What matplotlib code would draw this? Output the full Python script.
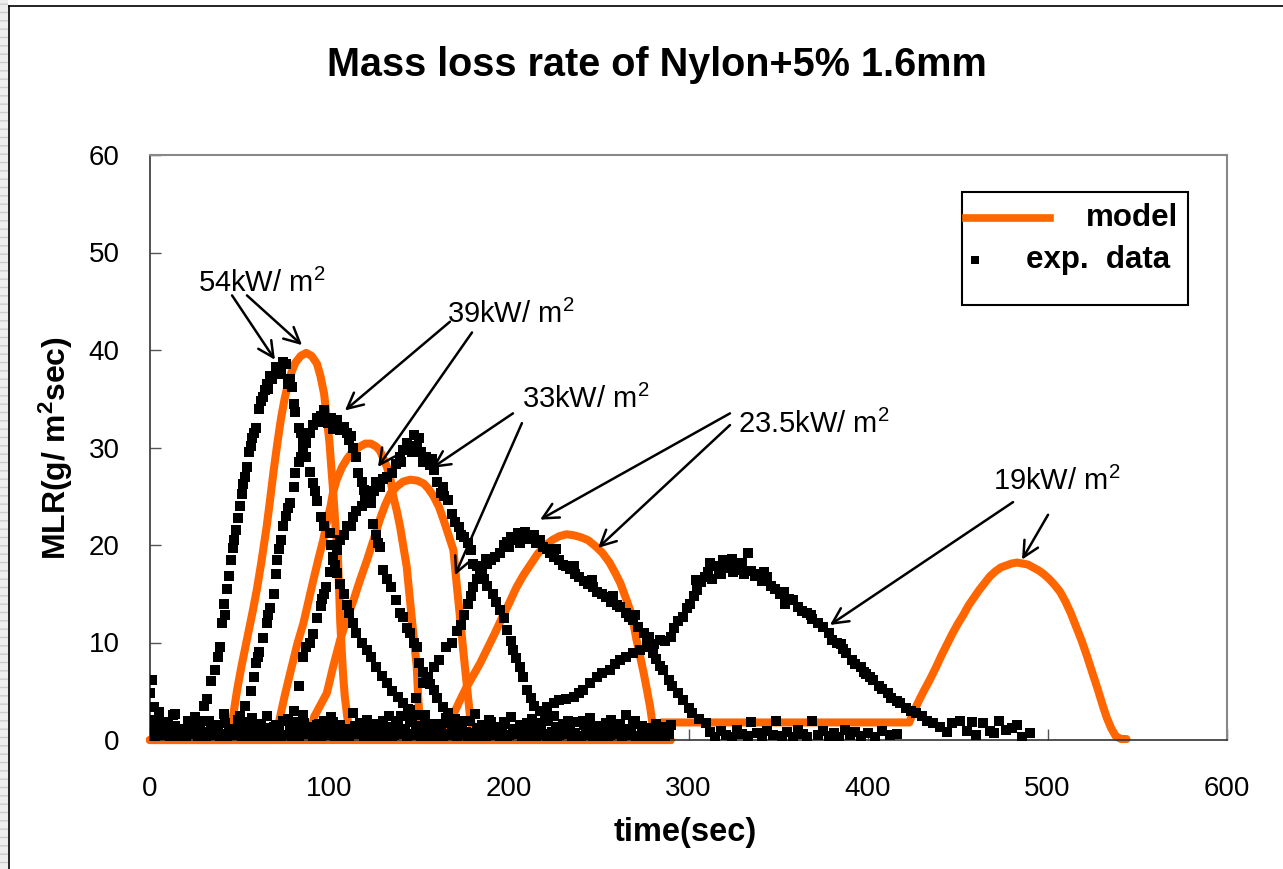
import numpy as np
import matplotlib
matplotlib.use("Agg")
import matplotlib.pyplot as plt
from matplotlib.patches import Rectangle
from matplotlib.lines import Line2D

plt.rcParams['font.family'] = ['Liberation Sans', 'DejaVu Sans']
plt.rcParams['mathtext.fontset'] = 'custom'
plt.rcParams['mathtext.rm'] = 'Liberation Sans'
plt.rcParams['mathtext.it'] = 'Liberation Sans'
plt.rcParams['mathtext.bf'] = 'Liberation Sans:bold'

exp54 = [[30,3.5],[32,4.2],[34,6.1],[36,7.2],[38,8.5],[39,9.5],[40,12.0],[41,14.0],[43,15.5],[44,16.8],
         [45,18.5],[46,19.7],[48,21.5],[49,22.8],[50,24.0],[51,25.2],[52,26.3],[54,28.0],[55,29.5],[56,30.2],
         [58,31.5],[59,32.0],[61,34.0],[62,34.8],[64,35.9],[65,36.5],[67,37.3],[68,37.0],[70,38.3],[72,38.0],
         [74,38.8],[76,38.6],[77,36.5],[78,37.0],[79,36.2],[80,34.5],[81,33.6],[83,32.0],[85,30.5],[87,29.0],
         [89,27.5],[91,26.4],[93,24.5],[95,22.9],[97,22.0],[100,21.2],[102,18.5],[104,17.1],[106,16.0],[108,15.0],
         [110,13.8],[111,13.0],[113,12.0],[115,11.0],[118,10.0],[121,9.2],[123,8.5],[126,7.5],[129,6.6],[132,5.8],
         [135,5.0],[138,4.4],[141,3.8],[145,3.1],[149,2.6],[153,2.2],
         [42,12.8],[47,20.5],[53,27.0],[57,31.0],[63,35.2],[66,36.0],[73,37.5],[84,31.5],[92,25.5],[101,20.0]]

exp39 = [[50,2.5],[53,3.5],[56,5.0],[58,6.5],[59,7.9],[61,9.0],[63,10.5],[65,12.0],[67,13.5],[69,15.0],
         [70,17.0],[71,18.5],[73,20.5],[74,21.9],[76,23.0],[78,24.3],[80,26.0],[81,27.4],[83,28.5],[85,29.7],
         [87,30.5],[89,31.5],[91,32.3],[93,33.0],[95,33.2],[97,33.8],[99,32.5],[101,33.0],[103,32.2],[104,32.8],
         [106,31.8],[108,32.1],[110,31.5],[111,30.8],[113,30.0],[115,29.0],[116,27.4],[118,26.5],[119,25.6],[121,24.8],
         [123,24.3],[124,22.2],[126,21.0],[128,19.8],[130,17.4],[132,16.5],[134,15.7],[137,14.4],[139,13.0],[141,12.6],
         [143,11.5],[145,11.0],[147,10.0],[149,9.5],[150,7.9],[152,7.0],[154,6.5],[156,5.7],[158,5.1],[160,4.3],
         [163,3.4],[166,2.8],[170,2.2],
         [60,8.5],[66,12.8],[72,19.6],[77,23.8],[84,29.0],[96,32.6],[102,31.9],[112,31.2],[120,25.0],[127,20.2]]

exp33 = [[80,3.0],[83,5.5],[85,8.5],[87,9.5],[89,10.0],[91,10.9],[93,12.5],[95,13.7],[97,15.0],[98,15.7],
         [100,17.2],[102,18.8],[104,19.5],[106,20.5],[108,21.0],[110,22.0],[113,22.9],[115,23.5],[118,24.0],[121,24.6],
         [123,25.3],[125,25.5],[128,26.0],[130,26.8],[132,27.0],[135,27.4],[137,28.3],[139,29.0],[141,29.7],[143,30.5],
         [145,30.2],[147,31.3],[149,30.0],[151,29.5],[152,28.5],[154,29.0],[156,28.2],[158,27.7],[160,26.5],[162,25.3],
         [164,25.0],[166,24.6],[168,23.2],[170,22.4],[172,21.8],[175,20.8],[177,20.2],[179,19.5],[180,18.1],[182,17.8],
         [184,17.0],[186,16.5],[188,15.8],[191,15.0],[193,14.2],[195,13.3],[197,12.5],[199,11.3],[201,10.2],[202,9.2],
         [204,8.4],[206,7.5],[208,6.5],[210,5.1],[212,4.3],[214,3.5],[217,3.0],[220,2.5],
         [96,14.5],[103,18.0],[112,22.0],[126,26.5],[140,28.5],[146,29.5],[150,31.0],[157,28.8],[163,26.0],[173,21.0]]

exp23 = [[140,2.5],[144,3.2],[148,4.3],[152,5.8],[155,6.5],[158,7.5],[161,8.2],[165,9.5],[168,10.0],[171,11.2],
         [173,11.8],[175,12.8],[177,14.0],[179,14.8],[180,15.7],[182,16.5],[185,17.5],[188,18.1],[190,18.5],[192,18.8],
         [195,19.2],[197,20.0],[199,20.3],[201,20.8],[203,20.5],[205,21.2],[207,20.8],[209,21.3],[211,20.6],[213,20.9],
         [215,20.2],[217,20.5],[219,19.8],[221,19.6],[223,19.2],[225,18.8],[228,18.5],[230,18.0],[232,17.8],[234,17.5],
         [237,17.0],[239,16.7],[242,16.3],[244,16.0],[247,15.7],[249,15.2],[252,15.0],[254,14.7],[257,14.2],[260,13.8],
         [262,13.6],[265,13.0],[267,12.6],[269,12.3],[272,11.6],[275,11.0],[277,10.0],[280,8.9],[282,8.3],[284,7.6],
         [286,7.2],[289,6.2],[291,5.5],[294,4.8],[297,4.1],[300,3.3],[302,2.8],[306,2.2],[310,1.7],
         [187,18.6],[200,19.8],[206,20.2],[214,21.0],[226,19.6],[236,17.8],[246,16.4],[258,14.8],[270,12.8],[278,10.6]]

exp19 = [[218,3.0],[221,3.4],[225,3.8],[228,4.1],[232,4.2],[236,4.4],[239,4.8],[241,5.1],[245,5.8],[249,6.5],
         [252,6.9],[256,7.2],[259,7.8],[262,8.2],[265,8.5],[269,8.9],[273,9.2],[277,9.5],[281,9.8],[284,10.3],
         [287,10.2],[290,10.6],[292,11.5],[294,12.2],[297,12.6],[299,13.5],[301,14.0],[303,14.8],[305,15.4],[307,16.2],
         [309,16.7],[311,17.2],[313,16.5],[315,17.8],[317,17.5],[319,18.5],[321,17.6],[323,17.9],[325,17.2],[327,18.0],
         [329,17.4],[331,17.0],[333,19.2],[335,17.3],[337,16.8],[339,17.0],[341,16.3],[344,16.7],[346,15.8],[348,15.5],
         [351,15.0],[353,15.2],[356,14.5],[358,14.4],[361,13.6],[363,13.2],[366,13.0],[369,12.4],[372,12.0],[375,11.6],
         [378,11.0],[380,10.3],[383,10.0],[386,9.3],[388,8.9],[391,8.2],[393,7.8],[396,7.5],[399,6.8],[401,6.5],
         [403,6.2],[406,5.5],[408,5.2],[411,4.8],[413,4.3],[416,4.0],[418,3.8],[421,3.3],[424,3.0],[427,2.8],
         [430,2.5],[433,2.0],[436,1.7],[440,1.3],[444,0.8],[447,1.7],[451,1.9],[455,0.9],[458,1.8],[460,0.5],
         [464,1.7],[468,0.9],[470,0.7],[473,1.9],[477,1.0],[480,1.2],[483,1.5],[486,0.3],[490,0.7],
         [304,16.4],[312,18.2],[318,17.0],[324,18.6],[330,18.2],[342,17.2],[354,14.0],[368,12.8],[385,9.8],[398,7.0]]

# baseline readings (before ignition / after burnout)
base_a = [0.6,0.9,0.5,0.8,1.0,0.4,0.7,0.9,0.5,0.8,
          0.6,1.0,0.5,0.7,0.9,0.4,0.8,0.6,1.0,0.5,
          0.7,0.9,0.6,0.4,0.8,1.0,0.5,0.7,0.9,0.6,
          0.8,0.4,0.7,1.0,0.5,0.9,0.6,0.8,0.4,0.7,
          1.0,0.6,0.9,0.5,0.8,0.7,0.4,0.9,0.6,1.0,
          0.5,0.8,0.7,0.4,0.9,0.6,0.8,0.5,1.0,0.7,
          0.4,0.9,0.6,0.8,0.5,0.7,1.0,0.6,0.4,0.8,
          0.9,0.5,0.7]
base_b = [1.5,1.2,1.8,1.4,1.1,1.6,1.3,1.9,1.2,1.5,
          1.7,1.1,1.4,1.8,1.3,1.6,1.2,1.5,1.9,1.1,
          1.4,1.7,1.3,1.6,1.2,1.8,1.5,1.1,1.4,1.7,
          1.2,1.6,1.9,1.3,1.5,1.1,1.8,1.4,1.2,1.6,
          1.3,1.7,1.1,1.5,1.9,1.2,1.4,1.8,1.3,1.6,
          1.1,1.5,1.7,1.2,1.4,1.9,1.3,1.6,1.1,1.8,
          1.5,1.2,1.4,1.7,1.3,1.6,1.1,1.9,1.4,1.2,
          1.6,1.3,1.5]
base_c = [3.4,2.2,1.0,2.6,0.3,1.9,2.4,0.8,2.0,1.2,
          2.7,0.5,2.1,1.6,2.3,0.9,2.5,1.3,0.4,2.2,
          1.8,2.6,0.7,1.5,2.0,2.4,1.1,0.3,2.8,1.7,
          2.1,0.6,1.4,2.5,1.9,0.8,2.2,1.2,2.6,0.5,
          1.6,2.3,1.0,2.0,0.4,2.7,1.5,2.1,0.9,1.8,
          2.4,0.6,1.3,2.2,1.7,0.3,2.5,1.1,2.0,0.7,
          1.9,2.3,0.5,1.4,2.1,0.8,2.6,1.6,0.4,1.2,
          0.9,0.3,0.6]
base_d = [0.3,0.5,0.2,0.4,0.3,0.6,0.2,0.4,0.5,0.3,
          0.2,0.5,0.4,0.3,0.6,0.2,0.4,0.3,0.5,0.2,
          0.4,0.6,0.3,0.2,0.5,0.3,0.4,0.2,0.6,0.3,
          0.5,0.2,0.4,0.3,0.6,0.2,0.5,0.3,0.4,0.2,
          0.3,0.5,0.2,0.6,0.4,0.3,0.2,0.5,0.4,0.3,
          0.6,0.2,0.4,0.3,0.5,0.2,0.4,0.6,0.3,0.2,
          0.5,0.3,0.4,0.2,0.6,0.3,0.5,0.2,0.4,0.3,
          0.2,0.4]
base_start = [[0,4.8],[1,6.2],[0,2.1],[2,3.4],[0,1.2],[5,2.9],[14,2.7]]
base_tail = [[312,0.8],[315,0.3],[318,0.9],[321,0.5],[324,0.3],[327,1.0],[330,0.6],[333,0.4],[335,1.8],[338,0.7],
             [341,0.3],[344,0.9],[347,0.5],[349,2.0],[352,0.4],[355,0.8],[358,0.3],[361,1.0],[364,0.6],[366,0.3],
             [369,2.0],[372,0.5],[375,0.9],[378,0.4],[381,0.7],[384,0.3],[387,1.0],[390,0.5],[393,0.8],[396,0.4],
             [400,0.7],[404,0.3],[408,0.9],[412,0.5],[416,0.6]]

# model curves
model54 = [[0,0],[43,0],[45,1.2],[46.5,2.7],[48.5,5.1],[51,7.6],[54,10.3],[57,13.0],[59.5,15.4],[62,18.2],
           [65,21.9],[67,24.8],[69,27.8],[71,30.5],[73,33.0],[75,35.0],[77,36.6],[79,37.8],[81,38.7],[84,39.4],
           [87,39.7],[90,39.4],[93,38.6],[95,37.3],[97,35.5],[98.5,33.0],[100,30.5],[101,28.0],[102,25.6],[103.5,21.5],
           [104.7,18.8],[106,12.0],[107.5,6.9],[108.5,4.5],[109.5,3.0],[110.5,1.5],[111.5,0.3],[113,0],[290,0]]
model39 = [[0,0],[69,0],[71,1.0],[72.5,2.4],[75,4.5],[78,6.8],[82,9.8],[85.5,12.0],[88,14.0],[91,16.4],
           [94,18.7],[96.5,20.5],[98.5,22.3],[100.5,23.9],[102,25.4],[104,26.7],[107,28.0],[110,28.9],[113,29.6],[117,30.1],
           [120,30.4],[123,30.4],[126,30.1],[128,29.7],[130,28.9],[132,28.0],[134,26.7],[135.5,25.0],[137.5,23.5],[139.3,21.9],
           [141,20.0],[143,17.8],[144.8,14.4],[146.7,10.9],[148.6,7.5],[149.5,4.1],[150.4,1.7],[151.5,0.3],[153,0],[290,0]]
model33 = [[0,0],[88,0],[90,1.2],[91.5,2.4],[95,3.6],[98.5,4.8],[102,7.5],[106,10.3],[110,12.6],[113.5,14.4],
           [117,16.4],[121,18.5],[125,20.8],[128,22.6],[131,24.1],[134,25.3],[137.5,26.0],[141,26.5],[145,26.7],[149,26.6],
           [152.5,26.3],[155,25.8],[158,25.0],[161,23.9],[163.5,22.6],[166,21.2],[169,19.5],[170.8,16.1],[172.7,12.6],[174.5,9.2],
           [176.4,5.8],[178.3,2.4],[180,1.0],[181.5,0.2],[183,0],[290,0]]
model23 = [[0,0],[163,0],[165,0.8],[168,2.2],[172,3.8],[176,5.3],[180,6.6],[184,7.9],[188,9.4],[192,10.9],
           [196,12.5],[200,14.0],[204,15.6],[208,16.9],[212,18.0],[216,19.1],[220,19.9],[224,20.5],[228,20.9],[232,21.1],
           [236,21.0],[240,20.8],[244,20.5],[248,19.9],[252,19.2],[256,18.2],[259,17.2],[262,16.1],[265,14.6],[267.5,13.3],
           [269.5,11.8],[271,10.3],[273,8.6],[275,6.9],[277,5.0],[278.6,3.4],[280,1.6],[281.5,0.5],[283,0.1],[290,0]]
model19 = [[285,1.8],[423,1.8],[425,2.7],[428,3.9],[431,5.0],[434.5,6.2],[438,7.5],[441,8.7],[444,9.8],[447,10.9],
           [450,11.9],[453,12.8],[456,13.8],[459,14.6],[462,15.4],[465,16.1],[468,16.8],[471,17.3],[474,17.7],[477,17.9],
           [480,18.1],[483,18.2],[486,18.1],[489,18.0],[492,17.7],[495,17.4],[498,17.0],[501,16.5],[504,15.9],[507,15.2],
           [510,14.2],[513,13.0],[516,11.6],[519,10.2],[522,8.6],[525,6.9],[528,5.2],[531,3.4],[533,2.3],[535.5,1.2],
           [538,0.4],[541,0.1],[544,0.1]]

# labels: text, text position (left, baseline), arrow tails and heads
labels = ["54kW/ m$^2$", "39kW/ m$^2$", "33kW/ m$^2$", "23.5kW/ m$^2$", "19kW/ m$^2$"]
label_pos = [(26.7, 45.9), (165.5, 42.8), (207.2, 34.1), (327.6, 31.5), (469.6, 25.6)]
arrows = [[(45.7, 45.6), (69.6, 39.0)], [(54.0, 45.6), (84.7, 40.5)],
          [(167.1, 42.9), (108.6, 33.8)], [(179.4, 41.8), (127.0, 28.0)],
          [(202.2, 33.5), (157.1, 27.9)], [(207.2, 32.5), (169.9, 16.9)],
          [(323.1, 33.5), (217.3, 22.6)], [(323.1, 32.3), (249.6, 19.7)],
          [(480.8, 24.4), (378.8, 11.8)], [(500.3, 23.1), (485.8, 18.5)]]

orange = '#FF6600'

fig = plt.figure(figsize=(12.83, 8.69), dpi=100)
ax = fig.add_axes([150/1283, 1-740/869, 1077/1283, 585/869])

for m in [model54, model39, model33, model23, model19]:
    a = np.array(m)
    ax.plot(a[:, 0], a[:, 1], color=orange, lw=5.8, solid_capstyle='round',
            solid_joinstyle='round', clip_on=False, zorder=2)

ms = 6.6
ta = np.arange(0, 292, 4)
tb = np.arange(2, 292, 4)
tc = np.arange(1, 292, 4)
td = np.arange(3, 292, 4)
for t, y in [(ta, base_a), (tb, base_b), (tc, base_c), (td, base_d)]:
    n = min(len(t), len(y))
    ax.plot(t[:n], y[:n], 's', color='black', ms=ms, mew=0, zorder=3)
for s in [base_start, base_tail, exp54, exp39, exp33, exp23, exp19]:
    a = np.array(s)
    ax.plot(a[:, 0], a[:, 1], 's', color='black', ms=ms, mew=0, zorder=3)

# annotations
for txt, p in zip(labels, label_pos):
    ax.text(p[0], p[1], txt, fontsize=21, ha='left', va='baseline', zorder=5)
for tail, head in arrows:
    ax.annotate('', xy=head, xytext=tail,
                arrowprops=dict(arrowstyle='->', color='black', lw=1.8,
                                mutation_scale=28, shrinkA=0, shrinkB=0), zorder=5)

ax.set_xlim(0, 600)
ax.set_ylim(0, 60)
ax.set_xticks([0, 100, 200, 300, 400, 500, 600])
ax.set_yticks([0, 10, 20, 30, 40, 50, 60])
ax.tick_params(direction='in', length=8, width=1, color='#555555', labelsize=20)
ax.tick_params(axis='x', pad=26)
ax.tick_params(axis='y', pad=22)
for side in ['left', 'bottom']:
    ax.spines[side].set_color('#333333')
    ax.spines[side].set_linewidth(1.2)
for side in ['top', 'right']:
    ax.spines[side].set_color('#888888')
    ax.spines[side].set_linewidth(1.5)

# legend drawn by hand (labels right aligned)
ax.add_patch(Rectangle((0.754, 0.7436), 0.2098, 0.1932, transform=ax.transAxes,
                       facecolor='white', edgecolor='black', lw=1.5, zorder=6))
ax.plot([0.7577, 0.8357], [0.8923, 0.8923], transform=ax.transAxes, color=orange, lw=5.5, zorder=7)
ax.plot([0.766], [0.8205], 's', transform=ax.transAxes, color='black', ms=5.5, mew=0, zorder=7)
ax.text(0.9545, 0.8923, 'model', transform=ax.transAxes, fontsize=22.5, fontweight='bold',
        ha='right', va='center', zorder=7)
ax.text(0.947, 0.8205, 'exp.  data', transform=ax.transAxes, fontsize=22.5, fontweight='bold',
        ha='right', va='center', zorder=7)

fig.text(657/1283, 1-65/869, 'Mass loss rate of Nylon+5% 1.6mm', fontsize=28.5,
         fontweight='bold', ha='center', va='center')
fig.text(685/1283, 1-832/869, 'time(sec)', fontsize=23.5, fontweight='bold', ha='center', va='center')
fig.text(56/1283, 1-448/869, r'MLR(g/ m$^\mathbf{2}$sec)', fontsize=23, fontweight='bold',
         rotation=90, ha='center', va='center')

# page frame at the left and top
fig.patches.append(Rectangle((0, 0), 8/1283, 1, transform=fig.transFigure,
                             facecolor='#eeeeee', edgecolor='#cccccc', hatch='--', lw=0))
fig.add_artist(Line2D([8.5/1283, 8.5/1283], [0, 1-6/869], color='black', lw=1.2))
fig.add_artist(Line2D([8.5/1283, 1], [1-6/869, 1-6/869], color='black', lw=1.2))

fig.savefig('out.png', dpi=100)
